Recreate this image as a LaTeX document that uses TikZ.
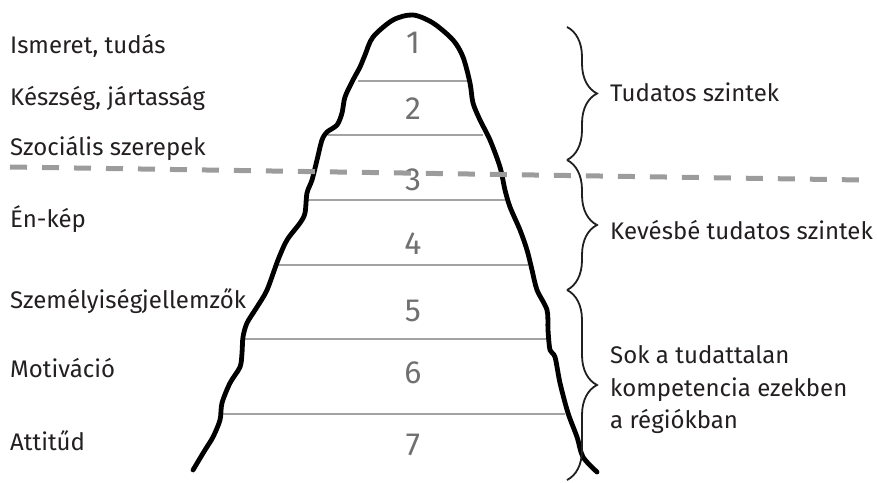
\documentclass[tikz,border=0pt]{standalone}
\usepackage{fontspec}
\setmainfont{Fira Sans}
\usetikzlibrary{decorations.pathreplacing}

\definecolor{txt}{HTML}{231F20}
\definecolor{numgray}{HTML}{707070}
\definecolor{linegray}{HTML}{A3A3A3}
\definecolor{dashgray}{HTML}{9C9C9C}

\begin{document}
\begin{tikzpicture}[x=1pt,y=-1pt,
    lvltext/.style={anchor=base west,inner sep=0pt,text=txt,font=\fontsize{24}{28}\selectfont},
    grouptext/.style={anchor=west,inner sep=0pt,text=txt,align=left,font=\fontsize{24}{32.5}\selectfont},
    lvlnum/.style={inner sep=0pt,text=numgray,font=\fontsize{32}{36}\selectfont},
    lvlline/.style={draw=linegray,line width=1.6pt},
    outline/.style={draw=black,line width=4.8pt,line cap=round,line join=round},
    grpbrace/.style={draw=txt,line width=1.8pt,decorate,decoration={brace,amplitude=30pt}},
    surface/.style={draw=dashgray,line width=5pt,dash pattern=on 17pt off 15pt}]
    \useasboundingbox (0,0) rectangle (877,482);

    % levels on the left
    \node[lvltext] (l1) at (10,53) {Ismeret, tudás};
    \node[lvltext] (l2) at (10,105) {Készség, jártasság};
    \node[lvltext] (l3) at (10,155) {Szociális szerepek};
    \node[lvltext] (l4) at (10,227) {Én-kép};
    \node[lvltext] (l5) at (10,308) {Személyiségjellemzők};
    \node[lvltext] (l6) at (10,377) {Motiváció};
    \node[lvltext] (l7) at (10,450) {Attitűd};

    % layers of the iceberg
    \foreach \y/\a/\b in {81/358/467, 135/328/483, 200/307/505, 265/278/528, 339/243/547, 414/222/565}
        \draw[lvlline] (\a,\y) -- (\b,\y);

    \node[lvlnum] (n1) at (413,43) {1};
    \node[lvlnum] (n2) at (413,109) {2};
    \node[lvlnum] (n3) at (413,180) {3};
    \node[lvlnum] (n4) at (413,244) {4};
    \node[lvlnum] (n5) at (413,311) {5};
    \node[lvlnum] (n6) at (413,373) {6};
    \node[lvlnum] (n7) at (413,445) {7};

    \draw[outline] plot[smooth,tension=0.5] coordinates {
        (193,470) (205,450) (213,437) (220,420) (222,403) (230,383) (240,367)
        (242,353) (243,337) (247,323) (257,307) (267,290) (278,260) (287,240)
        (300,223) (305,213) (307,193) (312,180) (317,160) (322,140) (327,132)
        (337,125) (342,113) (345,97) (353,80) (360,67) (365,55) (373,37)
        (393,20) (413,15) (433,23) (453,40) (463,57) (470,83) (473,103)
        (480,120) (490,140) (500,167) (505,190) (510,207) (520,230) (527,250)
        (532,270) (537,290) (547,310) (548,330) (550,350) (555,357) (560,383)
        (568,413) (577,437) (583,457) (597,472)};

    % groups on the right
    \coordinate (b0) at (567,27);
    \coordinate (b1) at (567,160);
    \coordinate (b2) at (567,290);
    \coordinate (b3) at (567,480);
    \draw[grpbrace] (b0) -- (b1);
    \draw[grpbrace] (b1) -- (b2);
    \draw[grpbrace] (b2) -- (b3);

    \node[grouptext] (g1) at (610,92) {Tudatos szintek};
    \node[grouptext] (g2) at (610,230) {Kevésbé tudatos szintek};
    \node[grouptext] (g3) at (610,390) {Sok a tudattalan\\kompetencia ezekben\\a régiókban};

    % water line
    \draw[surface] (10,167) -- (862,180);
\end{tikzpicture}
\end{document}
